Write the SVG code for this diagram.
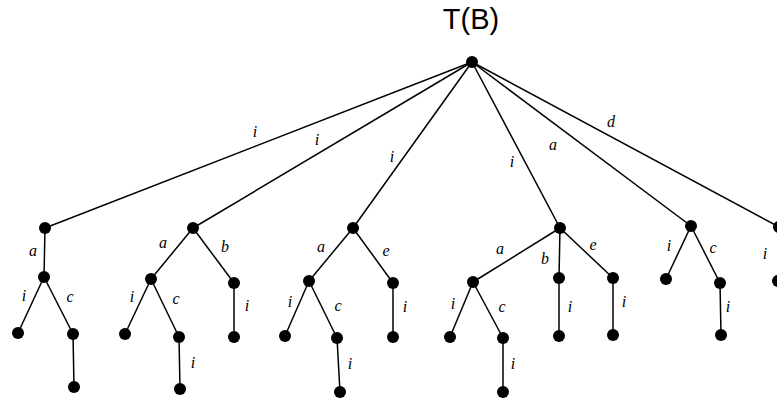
<svg xmlns="http://www.w3.org/2000/svg" width="777" height="400" viewBox="0 0 777 400">
  <style>
    .edge { stroke: #000; stroke-width: 1.5; fill: none; }
    .node { fill: #000; }
    .lbl { font-family: "Liberation Serif", "DejaVu Serif", serif; font-style: italic; font-size: 16px; fill: #000; text-anchor: middle; }
    .title { font-family: "Liberation Sans", Arial, sans-serif; font-size: 29px; fill: #000; text-anchor: middle; }
  </style>
  <rect width="777" height="400" fill="#fff"/>
  <text class="title" x="471" y="29">T(B)</text>

  <g id="connectors">
    <!-- root to first level -->
    <line class="edge" x1="472" y1="62" x2="45" y2="228"/>
    <line class="edge" x1="472" y1="62" x2="193" y2="228"/>
    <line class="edge" x1="472" y1="62" x2="353" y2="228"/>
    <line class="edge" x1="472" y1="62" x2="560" y2="228"/>
    <line class="edge" x1="472" y1="62" x2="691" y2="226"/>
    <line class="edge" x1="472" y1="62" x2="779" y2="227"/>
    <!-- subtree 1 -->
    <line class="edge" x1="45" y1="228" x2="44" y2="277"/>
    <line class="edge" x1="44" y1="277" x2="18" y2="333"/>
    <line class="edge" x1="44" y1="277" x2="73" y2="334"/>
    <line class="edge" x1="73" y1="334" x2="74" y2="387"/>
    <!-- subtree 2 -->
    <line class="edge" x1="193" y1="228" x2="151" y2="279"/>
    <line class="edge" x1="193" y1="228" x2="234" y2="283"/>
    <line class="edge" x1="151" y1="279" x2="125" y2="334"/>
    <line class="edge" x1="151" y1="279" x2="179" y2="337"/>
    <line class="edge" x1="179" y1="337" x2="180" y2="389"/>
    <line class="edge" x1="234" y1="283" x2="234" y2="337"/>
    <!-- subtree 3 -->
    <line class="edge" x1="353" y1="228" x2="309" y2="281"/>
    <line class="edge" x1="353" y1="228" x2="393" y2="283"/>
    <line class="edge" x1="309" y1="281" x2="285" y2="336"/>
    <line class="edge" x1="309" y1="281" x2="337" y2="338"/>
    <line class="edge" x1="337" y1="338" x2="340" y2="392"/>
    <line class="edge" x1="393" y1="283" x2="393" y2="337"/>
    <!-- subtree 4 -->
    <line class="edge" x1="560" y1="228" x2="473" y2="282"/>
    <line class="edge" x1="560" y1="228" x2="559" y2="278"/>
    <line class="edge" x1="560" y1="228" x2="613" y2="278"/>
    <line class="edge" x1="473" y1="282" x2="450" y2="337"/>
    <line class="edge" x1="473" y1="282" x2="503" y2="338"/>
    <line class="edge" x1="503" y1="338" x2="503" y2="392"/>
    <line class="edge" x1="559" y1="278" x2="559" y2="336"/>
    <line class="edge" x1="613" y1="278" x2="613" y2="335"/>
    <!-- subtree 5 -->
    <line class="edge" x1="691" y1="226" x2="666" y2="279"/>
    <line class="edge" x1="691" y1="226" x2="720" y2="283"/>
    <line class="edge" x1="720" y1="283" x2="721" y2="335"/>
    <!-- subtree 6 -->
    <line class="edge" x1="779" y1="227" x2="778" y2="281"/>
  </g>

  <g id="root"><circle class="node" cx="472" cy="62" r="6"/></g>

  <g id="n1">
    <circle class="node" cx="45" cy="228" r="6"/>
    <circle class="node" cx="44" cy="277" r="6"/>
    <circle class="node" cx="18" cy="333" r="6"/>
    <circle class="node" cx="73" cy="334" r="6"/>
    <circle class="node" cx="74" cy="387" r="6"/>
  </g>
  <g id="n2">
    <circle class="node" cx="193" cy="228" r="6"/>
    <circle class="node" cx="151" cy="279" r="6"/>
    <circle class="node" cx="234" cy="283" r="6"/>
    <circle class="node" cx="125" cy="334" r="6"/>
    <circle class="node" cx="179" cy="337" r="6"/>
    <circle class="node" cx="180" cy="389" r="6"/>
    <circle class="node" cx="234" cy="337" r="6"/>
  </g>
  <g id="n3">
    <circle class="node" cx="353" cy="228" r="6"/>
    <circle class="node" cx="309" cy="281" r="6"/>
    <circle class="node" cx="393" cy="283" r="6"/>
    <circle class="node" cx="285" cy="336" r="6"/>
    <circle class="node" cx="337" cy="338" r="6"/>
    <circle class="node" cx="340" cy="392" r="6"/>
    <circle class="node" cx="393" cy="337" r="6"/>
  </g>
  <g id="n4">
    <circle class="node" cx="560" cy="228" r="6"/>
    <circle class="node" cx="473" cy="282" r="6"/>
    <circle class="node" cx="559" cy="278" r="6"/>
    <circle class="node" cx="613" cy="278" r="6"/>
    <circle class="node" cx="450" cy="337" r="6"/>
    <circle class="node" cx="503" cy="338" r="6"/>
    <circle class="node" cx="503" cy="392" r="6"/>
    <circle class="node" cx="559" cy="336" r="6"/>
    <circle class="node" cx="613" cy="335" r="6"/>
  </g>
  <g id="n5">
    <circle class="node" cx="691" cy="226" r="6"/>
    <circle class="node" cx="666" cy="279" r="6"/>
    <circle class="node" cx="720" cy="283" r="6"/>
    <circle class="node" cx="721" cy="335" r="6"/>
  </g>
  <g id="n6">
    <circle class="node" cx="779" cy="227" r="6"/>
    <circle class="node" cx="778" cy="281" r="6"/>
  </g>

  <g id="labels">
    <text class="lbl" x="255" y="137">i</text>
    <text class="lbl" x="317" y="145">i</text>
    <text class="lbl" x="392" y="162">i</text>
    <text class="lbl" x="512" y="167">i</text>
    <text class="lbl" x="553" y="150">a</text>
    <text class="lbl" x="611" y="127">d</text>

    <text class="lbl" x="33" y="256">a</text>
    <text class="lbl" x="24" y="301">i</text>
    <text class="lbl" x="70" y="302">c</text>

    <text class="lbl" x="163" y="248">a</text>
    <text class="lbl" x="225" y="252">b</text>
    <text class="lbl" x="132" y="302">i</text>
    <text class="lbl" x="176" y="304">c</text>
    <text class="lbl" x="193" y="368">i</text>
    <text class="lbl" x="247" y="311">i</text>

    <text class="lbl" x="321" y="252">a</text>
    <text class="lbl" x="386" y="256">e</text>
    <text class="lbl" x="290" y="307">i</text>
    <text class="lbl" x="338" y="311">c</text>
    <text class="lbl" x="350" y="369">i</text>
    <text class="lbl" x="405" y="312">i</text>

    <text class="lbl" x="500" y="254">a</text>
    <text class="lbl" x="545" y="264">b</text>
    <text class="lbl" x="593" y="250">e</text>
    <text class="lbl" x="453" y="309">i</text>
    <text class="lbl" x="502" y="312">c</text>
    <text class="lbl" x="513" y="369">i</text>
    <text class="lbl" x="570" y="312">i</text>
    <text class="lbl" x="624" y="307">i</text>

    <text class="lbl" x="669" y="251">i</text>
    <text class="lbl" x="713" y="253">c</text>
    <text class="lbl" x="728" y="312">i</text>
    <text class="lbl" x="765" y="259">i</text>
  </g>
</svg>
